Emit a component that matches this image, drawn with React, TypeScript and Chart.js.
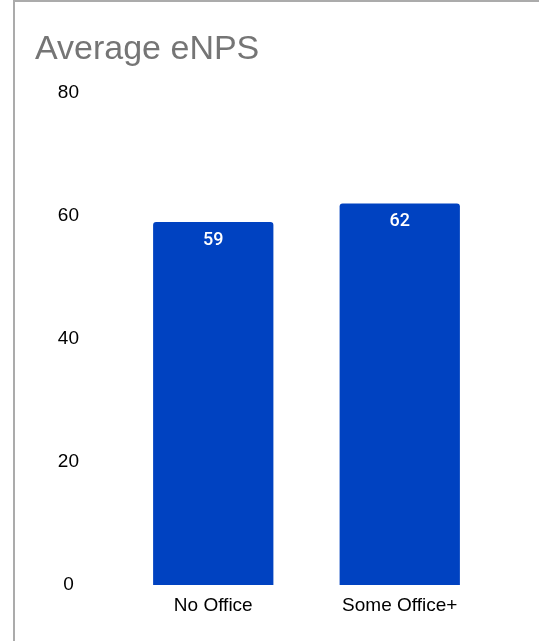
import React, { useEffect, useRef } from "react";
import { Chart, registerables } from "chart.js";

Chart.register(...registerables);

const categories: string[] = ["No Office", "Some Office+"];
const averageEnps: number[] = [59, 62];
const yTicks: number[] = [0, 20, 40, 60, 80];
const chartTitle = "Average eNPS";

const BAR_COLOR = "#0042c1";
const FONT = "'Liberation Sans', Arial, Helvetica, sans-serif";

// Writes each bar's value in white just inside its top edge.
const valueLabels = {
  id: "valueLabels",
  afterDatasetsDraw(chart: Chart) {
    const { ctx } = chart;
    const meta = chart.getDatasetMeta(0);
    const values = chart.data.datasets[0].data as number[];
    ctx.save();
    ctx.fillStyle = "#ffffff";
    ctx.font = "500 18px Roboto, 'Noto Sans', sans-serif";
    ctx.textAlign = "center";
    ctx.textBaseline = "middle";
    meta.data.forEach((bar: any, i: number) => {
      ctx.fillText(String(values[i]), bar.x, bar.y + 18);
    });
    ctx.restore();
  },
};

export default function App() {
  const canvasRef = useRef<HTMLCanvasElement | null>(null);

  useEffect(() => {
    if (!canvasRef.current) return;
    const chart = new Chart(canvasRef.current, {
      type: "bar",
      data: {
        labels: categories,
        datasets: [
          {
            data: averageEnps,
            backgroundColor: BAR_COLOR,
            borderRadius: 3,
            barPercentage: 0.645,
            categoryPercentage: 1,
          },
        ],
      },
      options: {
        animation: false,
        responsive: false,
        maintainAspectRatio: false,
        layout: { padding: { left: 35, right: 46, top: 0, bottom: 23 } },
        plugins: {
          legend: { display: false },
          tooltip: { enabled: false },
          title: {
            display: true,
            text: chartTitle,
            align: "start",
            color: "#757575",
            font: { family: FONT, size: 34, weight: "normal" },
            padding: { top: 29, bottom: 23 },
          },
        },
        scales: {
          x: {
            grid: { display: false, drawTicks: false },
            border: { display: false },
            ticks: {
              color: "#000000",
              font: { family: FONT, size: 19 },
              padding: 9,
            },
            afterFit: (scale: any) => {
              scale.height = 33;
            },
          },
          y: {
            min: 0,
            max: 80,
            grid: { display: false, drawTicks: false },
            border: { display: false },
            afterBuildTicks: (scale: any) => {
              scale.ticks = yTicks.map((v) => ({ value: v }));
            },
            ticks: {
              color: "#000000",
              font: { family: FONT, size: 19 },
              crossAlign: "center",
              padding: 41,
            },
            afterFit: (scale: any) => {
              scale.width = 85;
            },
          },
        },
      },
      plugins: [valueLabels],
    });
    return () => chart.destroy();
  }, []);

  return (
    <div style={{ position: "fixed", left: 0, top: 0, width: 539, height: 641, background: "#ffffff" }}>
      <canvas ref={canvasRef} width={539} height={641} style={{ position: "absolute", left: 0, top: 0 }} />
      <div
        style={{
          position: "absolute",
          left: 13,
          top: 0,
          right: 0,
          bottom: 0,
          borderLeft: "2px solid #ababab",
          borderTop: "2px solid #ababab",
          pointerEvents: "none",
        }}
      />
    </div>
  );
}
